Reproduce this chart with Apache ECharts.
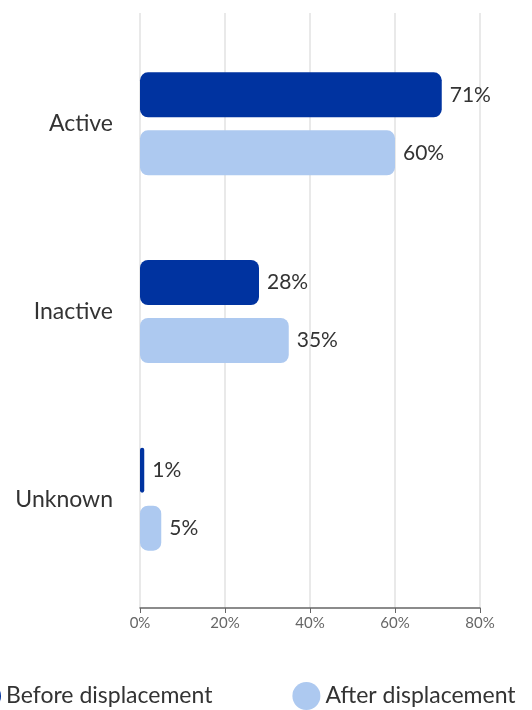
<!DOCTYPE html>
<html>
<head>
<meta charset="utf-8">
<script src="https://cdn.jsdelivr.net/npm/echarts@6/dist/echarts.min.js"></script>
<style>
  html, body { margin: 0; padding: 0; background: #fff; }
  #chart { width: 532px; height: 710px; }
</style>
</head>
<body>
<div id="chart"></div>
<script>
// categories, top to bottom
const categories = ['Active', 'Inactive', 'Unknown']
const beforeValues = [71, 28, 1]
const afterValues = [60, 35, 5]
const xTicks = [0, 20, 40, 60, 80]
const seriesNames = ['Before displacement', 'After displacement']

const font = 'Lato, "Open Sans", sans-serif'
const darkBlue = '#0033a0'
const lightBlue = '#adc9f0'

const chart = echarts.init(document.getElementById('chart'))

const valueLabel = {
  show: true,
  position: 'right',
  distance: 8,
  formatter: p => p.value + '%',
  color: '#333',
  fontSize: 21,
  fontFamily: font
}

const option = {
  animation: false,
  legend: {
    data: seriesNames,
    left: -27,
    top: 682,
    padding: 0,
    icon: 'circle',
    itemWidth: 28,
    itemHeight: 28,
    itemGap: 80,
    textStyle: { color: '#333', fontSize: 23, fontFamily: font }
  },
  grid: [
    // grid with the axis line and split lines
    { left: 140, right: 52, top: 13, bottom: 102 },
    // grid holding the bars
    { left: 140, right: 52, top: 30, bottom: 117 }
  ],
  xAxis: [
    {
      gridIndex: 0,
      type: 'value',
      min: xTicks[0],
      max: xTicks[xTicks.length - 1],
      interval: 20,
      axisLine: { show: true, lineStyle: { color: '#666', width: 1.5 } },
      axisTick: { show: true, length: 5, lineStyle: { color: '#666' } },
      axisLabel: { color: '#666', fontSize: 15, fontFamily: font, margin: 8, formatter: v => v + '%' },
      splitLine: { show: true, lineStyle: { color: '#e2e2e2', width: 1.5 } }
    },
    {
      gridIndex: 1,
      type: 'value',
      min: xTicks[0],
      max: xTicks[xTicks.length - 1],
      show: false
    }
  ],
  yAxis: [
    {
      gridIndex: 0,
      type: 'value',
      show: false
    },
    {
      gridIndex: 1,
      type: 'category',
      data: categories,
      inverse: true,
      axisLine: { show: false },
      axisTick: { show: false },
      axisLabel: { color: '#333', fontSize: 23, fontFamily: font, margin: 27 }
    }
  ],
  series: [
    {
      name: seriesNames[0],
      type: 'bar',
      xAxisIndex: 1,
      yAxisIndex: 1,
      data: beforeValues,
      barWidth: 45,
      barGap: '29%',
      itemStyle: { color: darkBlue, borderRadius: 8 },
      label: valueLabel
    },
    {
      name: seriesNames[1],
      type: 'bar',
      xAxisIndex: 1,
      yAxisIndex: 1,
      data: afterValues,
      barWidth: 45,
      barGap: '29%',
      itemStyle: { color: lightBlue, borderRadius: 8 },
      label: valueLabel
    }
  ]
}

chart.setOption(option)
</script>
</body>
</html>
